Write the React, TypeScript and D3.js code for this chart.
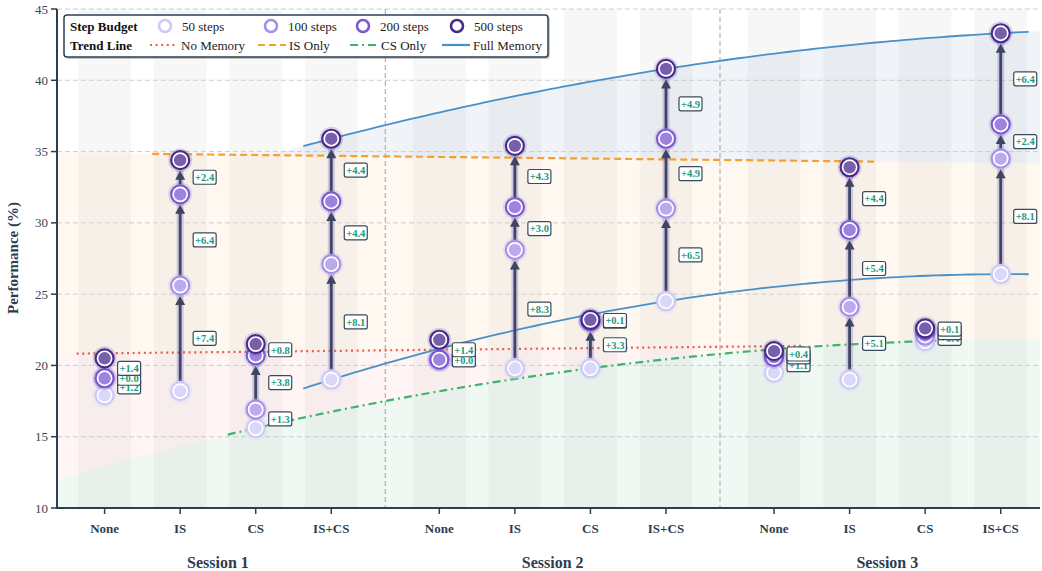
import React from 'react';
import * as d3 from 'd3';

const categories = ['None', 'IS', 'CS', 'IS+CS'];
const sessions = ['Session 1', 'Session 2', 'Session 3'];
const stepLabels = ['50 steps', '100 steps', '200 steps', '500 steps'];
// values per (session, category), session-major
const steps50 = [17.9, 18.2, 15.6, 19.0, 20.4, 19.8, 19.8, 24.5, 19.5, 19.0, 21.7, 26.4];
const steps100 = [19.1, 25.6, 16.9, 27.1, 20.4, 28.1, 23.1, 31.0, 20.6, 24.1, 22.1, 34.5];
const steps200 = [19.1, 32.0, 20.7, 31.5, 20.4, 31.1, 23.1, 35.9, 20.6, 29.5, 22.5, 36.9];
const steps500 = [20.5, 34.4, 21.5, 35.9, 21.8, 35.4, 23.2, 40.8, 21.0, 33.9, 22.6, 43.3];
const yTicks = [10, 15, 20, 25, 30, 35, 40, 45];
const trendLabels = ['No Memory', 'IS Only', 'CS Only', 'Full Memory'];

const stepSeries = [steps50, steps100, steps200, steps500];
const stepColors = ['#cdcaf7', '#a68ee9', '#7c5ad3', '#4a2a8f'];

const W = 1042, H = 571;
const SESSION_OFFSET = 4.43;
const FONT = '"Liberation Serif", "Times New Roman", serif';

const pos = (s: number, c: number) => s * SESSION_OFFSET + c;

const x = d3.scaleLinear().domain([-0.63, 12.38]).range([57, 1040]);
const y = d3.scaleLinear().domain([10, 45]).range([508, 9]);

function polyfit(xs: number[], ys: number[], deg: number) {
  const n = deg + 1;
  const A: number[][] = Array.from({ length: n }, () => new Array(n + 1).fill(0));
  for (let i = 0; i < n; i++) {
    for (let j = 0; j < n; j++) A[i][j] = d3.sum(xs, (v) => Math.pow(v, i + j));
    A[i][n] = d3.sum(xs.map((v, k) => Math.pow(v, i) * ys[k]));
  }
  for (let i = 0; i < n; i++) {
    let p = i;
    for (let k = i + 1; k < n; k++) if (Math.abs(A[k][i]) > Math.abs(A[p][i])) p = k;
    [A[i], A[p]] = [A[p], A[i]];
    for (let k = 0; k < n; k++) {
      if (k === i) continue;
      const f = A[k][i] / A[i][i];
      for (let j = i; j <= n; j++) A[k][j] -= f * A[i][j];
    }
  }
  const coef = A.map((r, i) => r[n] / r[i]);
  return (t: number) => coef.reduce((acc, c, i) => acc + c * Math.pow(t, i), 0);
}

function fitFor(cat: number, series: number[], deg: number) {
  const xs = sessions.map((_, s) => pos(s, cat));
  const ys = sessions.map((_, s) => series[s * 4 + cat]);
  return { f: polyfit(xs, ys, deg), x0: xs[0] - 0.37, x1: xs[xs.length - 1] + 0.37 };
}

const trends = [
  { ...fitFor(0, steps500, 1), color: '#ef5a4a', dash: '2,3.6', width: 2.2, cap: 'butt' },
  { ...fitFor(1, steps500, 1), color: '#f5a030', dash: '7,4', width: 2.2, cap: 'butt' },
  { ...fitFor(2, steps50, 2), color: '#3cb46a', dash: '8,4,2,4', width: 2.2, cap: 'butt' },
  { ...fitFor(3, steps500, 2), color: '#4a90c8', dash: '', width: 1.8, cap: 'butt' },
  { ...fitFor(3, steps50, 2), color: '#4a90c8', dash: '', width: 1.8, cap: 'butt' },
];

const bandColors = [
  'rgba(46,170,100,0.08)',
  'rgba(231,90,70,0.06)',
  'rgba(243,160,40,0.07)',
  'rgba(60,120,180,0.08)',
];

export default function App() {
  const grid = d3.range(0, 241).map((i) => -0.63 + (13.01 * i) / 240);
  const fG = trends[2].f, fR = trends[0].f, fO = trends[1].f, fB = trends[3].f;
  const levels = grid.map((t) => {
    const l1 = fG(t);
    const l2 = Math.max(l1, fR(t));
    const l3 = Math.max(l2, fO(t));
    const l4 = Math.min(45, Math.max(l3, fB(t)));
    return [10, l1, l2, l3, l4].map((v) => Math.min(45, v));
  });
  const bands = [0, 1, 2, 3].map((k) =>
    d3
      .area<number>()
      .x((_, i) => x(grid[i]))
      .y0((_, i) => y(levels[i][k]))
      .y1((_, i) => y(levels[i][k + 1]))(grid)
  );

  const line = d3.line<number>().x((t) => x(t)).y((t) => y(0)).curve(d3.curveLinear);

  const catPositions: { s: number; c: number; p: number }[] = [];
  sessions.forEach((_, s) => categories.forEach((__, c) => catPositions.push({ s, c, p: pos(s, c) })));

  const dividers = [0, 1].map((s) => (pos(s, 3) + pos(s + 1, 0)) / 2);

  const R = 9;
  const arrows: any[] = [];
  const labels: any[] = [];
  catPositions.forEach(({ s, c, p }, idx) => {
    const px = x(p);
    for (let k = 0; k < 3; k++) {
      const a = stepSeries[k][idx];
      const b = stepSeries[k + 1][idx];
      const ya = y(a), yb = y(b);
      const start = ya - (R + 1);
      const tip = yb + (R + 1.5);
      if (start - tip > 12) {
        arrows.push({ px, start, tip, ya, yb, key: `${idx}-${k}` });
      }
      labels.push({ px, cy: (ya + yb) / 2, text: `+${(b - a).toFixed(1)}`, key: `${idx}-${k}` });
    }
  });

  return (
    <svg width={W} height={H} style={{ position: 'absolute', left: 0, top: 0, background: '#fff' }} fontFamily={FONT}>
      {/* background stripes */}
      {catPositions.map(({ p }, i) => (
        <rect key={'st' + i} x={x(p - 0.35)} y={y(45)} width={x(p + 0.35) - x(p - 0.35)} height={y(10) - y(45)} fill="#000" opacity={0.03} />
      ))}
      {/* trend fills */}
      {bands.map((d, k) => (
        <path key={'band' + k} d={d || ''} fill={bandColors[k]} />
      ))}
      {/* grid */}
      {yTicks.slice(1).map((t) => (
        <line key={'g' + t} x1={x(-0.63)} x2={x(12.38)} y1={y(t)} y2={y(t)} stroke="#c8c8c8" strokeWidth={0.9} strokeDasharray="5,3" />
      ))}
      {dividers.map((d, i) => (
        <line key={'dv' + i} x1={x(d)} x2={x(d)} y1={y(45)} y2={y(10)} stroke="#aaaaaa" strokeWidth={1.1} strokeDasharray="5,3" />
      ))}
      {/* trend lines */}
      {trends.map((tr, i) => {
        const ts = d3.range(0, 101).map((j) => tr.x0 + ((tr.x1 - tr.x0) * j) / 100);
        const d = d3.line<number>().x((t) => x(t)).y((t) => y(tr.f(t)))(ts);
        return <path key={'tr' + i} d={d || ''} fill="none" stroke={tr.color} strokeWidth={tr.width} strokeDasharray={tr.dash || undefined} />;
      })}
      {/* arrows */}
      {arrows.map((a) => (
        <g key={'ar' + a.key}>
          <line x1={a.px} x2={a.px} y1={a.ya - 6} y2={a.yb + 8} stroke="#8a78c8" strokeWidth={7} opacity={0.35} />
          <line x1={a.px} x2={a.px} y1={a.start} y2={a.tip + 8} stroke="#3c4562" strokeWidth={2.8} />
          <polygon points={`${a.px},${a.tip} ${a.px - 5},${a.tip + 9} ${a.px + 5},${a.tip + 9}`} fill="#3c4562" />
        </g>
      ))}
      {/* markers */}
      {catPositions.map(({ p }, idx) =>
        stepSeries.map((ser, k) => {
          const cx = x(p), cy = y(ser[idx]);
          return (
            <g key={'m' + idx + '-' + k}>
              <circle cx={cx} cy={cy} r={12} fill={stepColors[k]} opacity={0.18} />
              <circle cx={cx} cy={cy} r={R} fill="#fff" stroke={stepColors[k]} strokeWidth={2.2} />
              <circle cx={cx} cy={cy} r={6.2} fill={stepColors[k]} opacity={0.75} />
            </g>
          );
        })
      )}
      {/* labels */}
      {labels.map((l) => (
        <g key={'lb' + l.key}>
          <rect x={l.px + 13} y={l.cy - 7} width={23} height={14} rx={2} fill="#fff" stroke="#3a4a5a" strokeWidth={1.2} />
          <text x={l.px + 24.5} y={l.cy + 3.8} textAnchor="middle" fontSize={10.5} fontWeight="bold" fill="#1a9a7c">
            {l.text}
          </text>
        </g>
      ))}
      {/* axes */}
      <line x1={57} x2={57} y1={y(45)} y2={y(10) + 1} stroke="#2c3e50" strokeWidth={2} />
      <line x1={56} x2={x(12.38)} y1={y(10)} y2={y(10)} stroke="#2c3e50" strokeWidth={2} />
      {yTicks.map((t) => (
        <g key={'yt' + t}>
          <line x1={51} x2={57} y1={y(t)} y2={y(t)} stroke="#2c3e50" strokeWidth={1.5} />
          <text x={48} y={y(t) + 4.5} textAnchor="end" fontSize={13} fill="#3a4656">
            {t}
          </text>
        </g>
      ))}
      {catPositions.map(({ c, p }, i) => (
        <g key={'xt' + i}>
          <line x1={x(p)} x2={x(p)} y1={508} y2={514} stroke="#2c3e50" strokeWidth={1.5} />
          <text x={x(p)} y={533} textAnchor="middle" fontSize={13} fontWeight="bold" fill="#2c3e50">
            {categories[c]}
          </text>
        </g>
      ))}
      {sessions.map((s, i) => (
        <text key={'ss' + i} x={x(pos(i, 1.5))} y={568} textAnchor="middle" fontSize={16} fontWeight="bold" fill="#2c3e50">
          {s}
        </text>
      ))}
      <text transform={`translate(18,258) rotate(-90)`} textAnchor="middle" fontSize={15} fontWeight="bold" fill="#2c3e50">
        Performance (%)
      </text>
      {/* legend */}
      <g>
        <rect x={66} y={17} width={484} height={42} rx={3} fill="#888" opacity={0.45} />
        <rect x={64} y={15} width={484} height={42} rx={3} fill="#fff" stroke="#2c3e50" strokeWidth={1.5} />
        <text x={70} y={30.5} fontSize={13} fontWeight="bold" fill="#111">Step Budget</text>
        <text x={70} y={49.5} fontSize={13} fontWeight="bold" fill="#111">Trend Line</text>
        {stepLabels.map((s, k) => {
          const mx = [165, 271, 363, 457][k];
          return (
            <g key={'lg' + k}>
              <circle cx={mx} cy={26} r={6} fill="#fff" stroke={stepColors[k]} strokeWidth={2.6} />
              <text x={mx + 17} y={30.5} fontSize={13} fill="#222">{s}</text>
            </g>
          );
        })}
        {trendLabels.map((s, k) => {
          const lx = [150, 258, 350, 442][k];
          const tr = trends[k];
          return (
            <g key={'lt' + k}>
              <line x1={lx} x2={lx + 28} y1={45} y2={45} stroke={tr.color} strokeWidth={2.2} strokeDasharray={tr.dash || undefined} />
              <text x={lx + 31} y={49.5} fontSize={13} fill="#222">{s}</text>
            </g>
          );
        })}
      </g>
    </svg>
  );
}
